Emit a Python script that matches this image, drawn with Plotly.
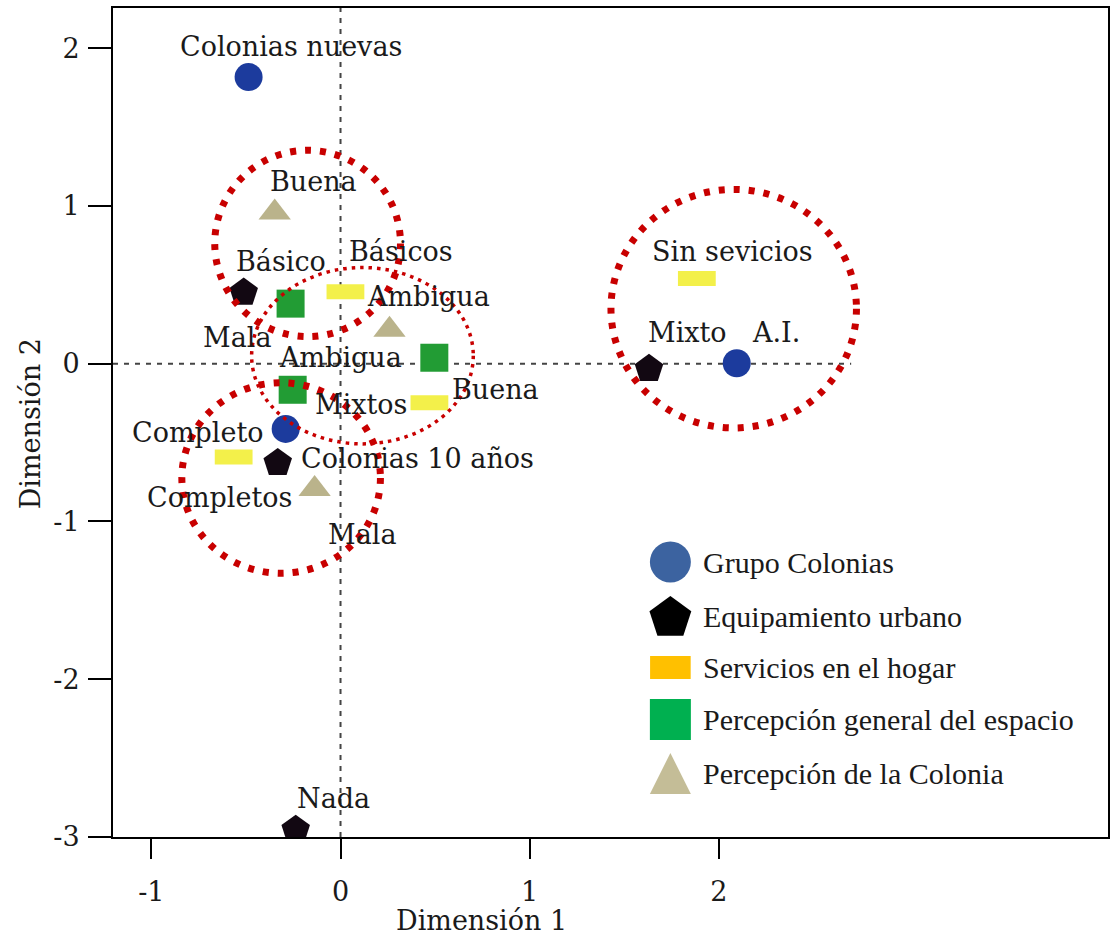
import plotly.graph_objects as go

# ---- Category coordinates (Dimensión 1, Dimensión 2) ----
colonias_labels = ["Colonias nuevas", "Colonias 10 años", "A.I."]
colonias_x = [-0.486, -0.290, 2.095]
colonias_y = [1.817, -0.413, 0.003]

equip_labels = ["Básico", "Completo", "Mixto", "Nada"]
equip_x = [-0.512, -0.332, 1.631, -0.237]
equip_y = [0.451, -0.629, -0.032, -2.954]

serv_labels = ["Básicos", "Completos", "Mixtos", "Sin sevicios"]
serv_x = [0.026, -0.565, 0.470, 1.884]
serv_y = [0.457, -0.591, -0.248, 0.540]

espacio_labels = ["Buena", "Ambigua", "Mala"]
espacio_x = [0.496, -0.253, -0.264]
espacio_y = [0.038, -0.165, 0.381]

percol_labels = ["Buena", "Ambigua", "Mala"]
percol_x = [-0.348, 0.259, -0.137]
percol_y = [0.959, 0.216, -0.794]

legend_names = [
    "Grupo Colonias",
    "Equipamiento urbano",
    "Servicios en el hogar",
    "Percepción general del espacio",
    "Percepción de la Colonia",
]

x_ticks = [-1, 0, 1, 2]
x_ticktext = ["-1", "0", "1", "2"]
y_ticks = [-3, -2, -1, 0, 1, 2]
y_ticktext = ["-3", "-2", "-1", "0", "1", "2"]

# ---- Label offsets in pixels (dx right, dy down) ----
colonias_off = [(42, -31), (132, 30), (39, -31)]
equip_off = [(37, -31), (-80, -30), (39, -36), (38, -31)]
serv_off = [(56, -40), (-14, 41), (-68, 2), (36, -27)]
espacio_off = [(61, 32), (48, -32), (-54, 34)]
percol_off = [(39, -31), (39, -33), (47, 46)]

# ---- Groups highlighted with dotted rings (data units) ----
rings = [
    dict(x0=-0.665, x1=0.317, y0=0.172, y1=1.353, width=7, dash="6px,9px"),
    dict(x0=-0.470, x1=0.702, y0=-0.508, y1=0.610, width=3.5, dash="3.5px,5px"),
    dict(x0=-0.839, x1=0.211, y0=-1.328, y1=-0.121, width=7, dash="6px,9px"),
    dict(x0=1.430, x1=2.728, y0=-0.407, y1=1.105, width=7, dash="6px,9px"),
]

FONT = "DejaVu Serif"
LEG_FONT = "Liberation Serif"
TXT = "#1a1a1a"
W, H = 1113, 935
ML, MR, MT, MB = 113, 3, 8, 98
X_RANGE = [-1.203, 4.058]
Y_RANGE = [-3.0, 2.255]

fig = go.Figure()

# Plot markers
fig.add_trace(go.Scatter(x=colonias_x, y=colonias_y, mode="markers",
                         marker=dict(symbol="circle", size=28, color="#1c3b9d"),
                         showlegend=False, hoverinfo="skip"))
fig.add_trace(go.Scatter(x=equip_x, y=equip_y, mode="markers",
                         marker=dict(symbol="pentagon", size=30, color="#120812"),
                         showlegend=False, hoverinfo="skip"))
fig.add_trace(go.Scatter(x=serv_x, y=serv_y, mode="markers",
                         marker=dict(symbol="line-ew", size=27,
                                     line=dict(width=15, color="#f3f04a")),
                         showlegend=False, hoverinfo="skip"))
fig.add_trace(go.Scatter(x=espacio_x, y=espacio_y, mode="markers",
                         marker=dict(symbol="square", size=28, color="#229c34"),
                         showlegend=False, hoverinfo="skip"))
fig.add_trace(go.Scatter(x=percol_x, y=percol_y, mode="markers",
                         marker=dict(symbol="triangle-up", size=28, color="#bab38b"),
                         showlegend=False, hoverinfo="skip"))

# Point labels
annotations = []
for labels, xs, ys, offs in [
    (colonias_labels, colonias_x, colonias_y, colonias_off),
    (equip_labels, equip_x, equip_y, equip_off),
    (serv_labels, serv_x, serv_y, serv_off),
    (espacio_labels, espacio_x, espacio_y, espacio_off),
    (percol_labels, percol_x, percol_y, percol_off),
]:
    for lab, xv, yv, (dx, dy) in zip(labels, xs, ys, offs):
        annotations.append(dict(x=xv, y=yv, xref="x", yref="y", text=lab,
                                showarrow=False, xanchor="center", yanchor="middle",
                                xshift=dx, yshift=-dy,
                                font=dict(family=FONT, size=27, color=TXT)))

# Legend keys drawn on a pixel-scaled overlay axis
leg_x = 671.5
leg_text_x = 702
leg_rows = [562, 616, 667.5, 719.5, 773]
fig.add_trace(go.Scatter(x=[leg_x], y=[leg_rows[0]], xaxis="x2", yaxis="y2", mode="markers",
                         marker=dict(symbol="circle", size=41, color="#3c63a0"),
                         showlegend=False, hoverinfo="skip"))
fig.add_trace(go.Scatter(x=[leg_x], y=[leg_rows[1] + 2], xaxis="x2", yaxis="y2", mode="markers",
                         marker=dict(symbol="pentagon", size=44, color="#000000"),
                         showlegend=False, hoverinfo="skip"))
fig.add_trace(go.Scatter(x=[leg_x], y=[leg_rows[2]], xaxis="x2", yaxis="y2", mode="markers",
                         marker=dict(symbol="line-ew", size=29,
                                     line=dict(width=23, color="#ffc000")),
                         showlegend=False, hoverinfo="skip"))
fig.add_trace(go.Scatter(x=[leg_x], y=[leg_rows[3]], xaxis="x2", yaxis="y2", mode="markers",
                         marker=dict(symbol="square", size=41, color="#00b050"),
                         showlegend=False, hoverinfo="skip"))
fig.add_trace(go.Scatter(x=[leg_x], y=[leg_rows[4] - 20], xaxis="x2", yaxis="y2", mode="markers",
                         marker=dict(symbol="arrow-up", size=41, color="#c4bd97"),
                         showlegend=False, hoverinfo="skip"))
for name, ry in zip(legend_names, leg_rows):
    annotations.append(dict(x=leg_text_x, y=ry, xref="x2", yref="y2", text=name,
                            showarrow=False, xanchor="left", yanchor="middle",
                            font=dict(family=LEG_FONT, size=30, color=TXT)))

# Axis titles
pw, ph = W - ML - MR, H - MT - MB
annotations.append(dict(x=(482 - ML) / pw, y=(H - MB - 920) / ph, xref="paper", yref="paper",
                        text="Dimensión 1", showarrow=False, xanchor="center", yanchor="middle",
                        font=dict(family=FONT, size=27, color=TXT)))
annotations.append(dict(x=(30 - ML) / pw, y=0.498, xref="paper", yref="paper",
                        text="Dimensión 2", showarrow=False, xanchor="center", yanchor="middle",
                        textangle=-90, font=dict(family=FONT, size=27, color=TXT)))

shapes = []
# Reference lines through the origin
shapes.append(dict(type="line", xref="x", yref="paper", x0=0, x1=0, y0=0, y1=1,
                   line=dict(color="#444444", width=2, dash="5px,6px"), layer="below"))
shapes.append(dict(type="line", xref="x", yref="y", x0=X_RANGE[0], x1=2.70, y0=0, y1=0,
                   line=dict(color="#444444", width=2, dash="5px,6px"), layer="below"))
# Dotted rings
for r in rings:
    shapes.append(dict(type="circle", xref="x", yref="y", x0=r["x0"], x1=r["x1"],
                       y0=r["y0"], y1=r["y1"],
                       line=dict(color="#c80000", width=r["width"], dash=r["dash"])))

fig.update_layout(
    width=W, height=H,
    margin=dict(l=ML, r=MR, t=MT, b=MB),
    paper_bgcolor="white", plot_bgcolor="white",
    font=dict(family=FONT, color=TXT),
    showlegend=False,
    annotations=annotations,
    shapes=shapes,
    xaxis=dict(range=X_RANGE, showgrid=False, zeroline=False, showline=True,
               linecolor="black", linewidth=2, mirror=True,
               ticks="outside", ticklen=20, tickwidth=2, tickcolor="black",
               tickvals=x_ticks, ticktext=x_ticktext, ticklabelstandoff=10,
               tickfont=dict(family=FONT, size=27, color=TXT)),
    yaxis=dict(range=Y_RANGE, showgrid=False, zeroline=False, showline=True,
               linecolor="black", linewidth=2, mirror=True,
               ticks="outside", ticklen=23, tickwidth=2, tickcolor="black",
               tickvals=y_ticks, ticktext=y_ticktext, ticklabelstandoff=3,
               tickfont=dict(family=FONT, size=27, color=TXT)),
    xaxis2=dict(overlaying="x", anchor="y2", range=[ML, W - MR], visible=False),
    yaxis2=dict(overlaying="y", anchor="x2", range=[H - MB, MT], visible=False),
)

fig.write_html("out.html")
